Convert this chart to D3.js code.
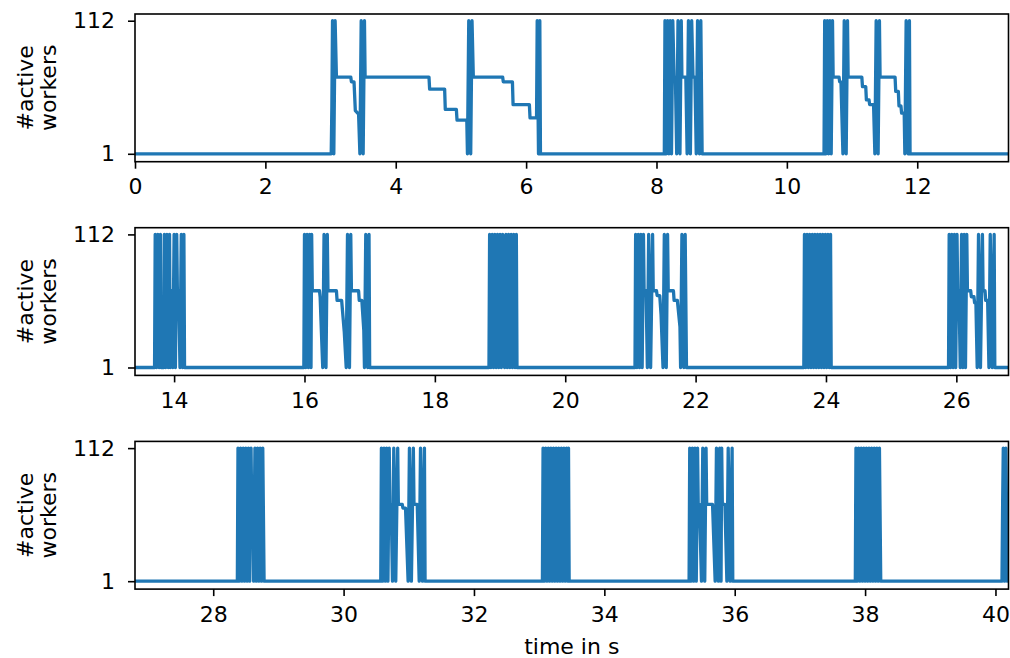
<!DOCTYPE html>
<html>
<head>
<meta charset="utf-8">
<script src="https://cdn.jsdelivr.net/npm/d3@7"></script>
<style>
  body { margin: 0; background: #fff; }
  svg text { font-family: "DejaVu Sans", sans-serif; fill: #000; }
</style>
</head>
<body>
<svg id="chart" width="1010" height="658"></svg>
<script>
// Time window (seconds) shown by each of the three stacked panels
const panelRanges = [[0, 13.4], [13.4, 26.8], [26.8, 40.2]];
const xTickValues = [
  [0, 2, 4, 6, 8, 10, 12],
  [14, 16, 18, 20, 22, 24, 26],
  [28, 30, 32, 34, 36, 38, 40]
];
const yTickValues = [1, 112];
const yLimits = [-5.6, 117.6];
const yLabelLines = ["#active", "workers"];
const xLabel = "time in s";

// Trace of active worker count: [time in s, #active workers]
const samples = [
  [0, 1],
  [3.01, 1], [3.02, 40], [3.03, 112], [3.05, 1], [3.07, 112], [3.09, 65],
  [3.31, 65], [3.32, 61], [3.36, 61], [3.38, 37], [3.43, 34], [3.45, 1], [3.47, 112], [3.50, 1], [3.52, 112], [3.53, 65],
  [4.51, 65], [4.52, 55], [4.75, 55], [4.76, 38], [4.93, 38], [4.94, 29], [5.09, 29], [5.10, 1], [5.12, 112], [5.15, 1], [5.17, 112], [5.19, 65],
  [5.64, 65], [5.65, 61], [5.79, 61], [5.80, 42], [6.05, 42], [6.06, 31], [6.16, 31], [6.17, 112], [6.19, 1], [6.21, 112], [6.22, 1],
  [8.12, 1], [8.13, 112], [8.15, 1], [8.17, 112], [8.19, 1], [8.21, 112], [8.23, 1], [8.25, 112], [8.27, 65], [8.29, 65],
  [8.31, 1], [8.33, 112], [8.36, 1], [8.38, 112], [8.39, 65], [8.45, 65],
  [8.47, 1], [8.49, 112], [8.52, 1], [8.54, 112], [8.56, 65], [8.59, 65],
  [8.61, 1], [8.63, 112], [8.66, 1], [8.68, 112], [8.70, 1],
  [10.57, 1], [10.58, 112], [10.60, 1], [10.62, 112], [10.64, 1], [10.66, 112], [10.68, 1], [10.70, 112], [10.71, 65],
  [10.80, 65], [10.81, 61], [10.83, 61], [10.86, 1], [10.88, 112], [10.91, 1], [10.93, 112], [10.94, 65],
  [11.15, 65], [11.16, 57], [11.21, 57], [11.22, 46], [11.26, 46], [11.27, 42], [11.33, 42],
  [11.35, 1], [11.37, 112], [11.40, 1], [11.42, 112], [11.43, 65],
  [11.66, 65], [11.67, 53], [11.71, 53], [11.72, 41], [11.75, 41], [11.76, 35], [11.80, 35],
  [11.81, 1], [11.83, 112], [11.86, 1], [11.88, 112], [11.89, 1],
  [13.70, 1], [13.71, 112], [13.73, 1], [13.75, 112], [13.77, 1], [13.79, 112], [13.80, 1],
  [13.84, 1], [13.85, 112], [13.87, 1], [13.89, 112], [13.91, 1], [13.93, 112], [13.94, 1],
  [13.95, 65], [13.97, 65],
  [13.98, 1], [14.00, 112], [14.02, 1], [14.04, 112], [14.05, 65], [14.07, 65],
  [14.09, 1], [14.11, 112], [14.13, 1], [14.15, 112], [14.16, 1],
  [15.99, 1], [16.00, 112], [16.02, 1], [16.04, 112], [16.06, 1], [16.08, 112], [16.10, 1], [16.11, 112], [16.12, 65],
  [16.23, 65], [16.24, 60], [16.26, 30], [16.28, 1], [16.30, 112], [16.33, 1], [16.35, 112], [16.36, 65],
  [16.49, 65], [16.50, 57], [16.57, 57], [16.61, 31], [16.64, 1], [16.66, 112], [16.69, 1], [16.71, 112], [16.72, 65],
  [16.83, 65], [16.84, 57], [16.88, 57], [16.91, 32], [16.92, 1], [16.94, 112], [16.97, 1], [16.99, 112], [17.00, 1],
  [18.83, 1], [18.84, 112], [18.86, 1], [18.88, 112], [18.90, 1], [18.92, 112], [18.94, 1], [18.96, 112], [18.98, 1],
  [19.00, 112], [19.02, 1], [19.04, 112], [19.05, 65], [19.06, 65],
  [19.07, 1], [19.09, 112], [19.11, 1], [19.13, 112], [19.15, 1], [19.17, 112], [19.19, 1], [19.21, 112], [19.23, 1],
  [19.25, 112], [19.26, 1],
  [21.07, 1], [21.08, 112], [21.10, 1], [21.12, 112], [21.14, 1], [21.16, 112], [21.18, 1], [21.20, 112], [21.21, 65],
  [21.24, 65], [21.26, 1], [21.28, 112], [21.31, 1], [21.34, 112], [21.35, 65],
  [21.40, 65], [21.41, 61], [21.45, 61], [21.47, 45], [21.50, 1], [21.52, 112], [21.55, 1], [21.57, 112], [21.58, 65],
  [21.66, 65], [21.67, 57], [21.72, 57], [21.76, 35], [21.77, 1], [21.79, 112], [21.82, 1], [21.84, 112], [21.86, 1],
  [23.66, 1], [23.67, 112], [23.69, 1], [23.71, 112], [23.73, 1], [23.75, 112], [23.77, 1], [23.79, 112], [23.81, 1],
  [23.83, 112], [23.85, 1], [23.87, 112], [23.89, 1], [23.91, 112], [23.93, 1], [23.95, 112], [23.97, 1], [23.99, 112],
  [24.01, 1], [24.03, 112], [24.05, 1], [24.07, 112], [24.08, 1],
  [25.88, 1], [25.89, 112], [25.91, 1], [25.93, 112], [25.95, 1], [25.97, 112], [25.99, 1], [26.01, 112], [26.02, 65],
  [26.04, 65], [26.06, 1], [26.08, 112], [26.10, 1], [26.12, 112], [26.14, 1], [26.16, 112], [26.17, 65],
  [26.22, 65], [26.23, 60], [26.27, 60], [26.28, 55], [26.30, 55], [26.32, 1], [26.34, 112], [26.37, 1], [26.40, 112], [26.41, 65],
  [26.44, 65], [26.45, 57], [26.48, 57], [26.50, 1], [26.52, 112], [26.55, 1], [26.58, 112], [26.59, 1],
  [28.37, 1], [28.38, 112], [28.40, 1], [28.42, 112], [28.44, 1], [28.46, 112], [28.48, 1], [28.50, 112], [28.52, 1],
  [28.54, 112], [28.56, 1], [28.58, 112], [28.59, 65], [28.61, 65],
  [28.62, 1], [28.64, 112], [28.66, 1], [28.68, 112], [28.70, 1], [28.72, 112], [28.74, 1], [28.76, 112], [28.78, 1],
  [30.57, 1], [30.58, 112], [30.60, 1], [30.62, 112], [30.64, 1], [30.66, 112], [30.68, 1], [30.70, 112], [30.71, 65],
  [30.73, 65], [30.75, 1], [30.77, 112], [30.80, 1], [30.83, 112], [30.84, 65],
  [30.90, 65], [30.91, 62], [30.95, 62], [30.99, 1], [31.01, 112], [31.04, 1], [31.07, 112], [31.08, 65],
  [31.13, 65], [31.16, 1], [31.18, 112], [31.21, 1], [31.24, 112], [31.25, 1],
  [33.05, 1], [33.06, 112], [33.08, 1], [33.10, 112], [33.12, 1], [33.14, 112], [33.16, 1], [33.18, 112], [33.20, 1],
  [33.22, 112], [33.24, 1], [33.26, 112], [33.27, 65], [33.28, 1], [33.30, 112], [33.32, 1], [33.34, 112], [33.36, 1],
  [33.38, 112], [33.40, 1], [33.42, 112], [33.44, 1], [33.45, 112], [33.46, 1],
  [35.30, 1], [35.31, 112], [35.33, 1], [35.35, 112], [35.37, 1], [35.39, 112], [35.41, 1], [35.43, 112], [35.44, 65],
  [35.46, 65], [35.49, 1], [35.51, 112], [35.54, 1], [35.56, 112], [35.57, 65],
  [35.66, 65], [35.70, 1], [35.72, 112], [35.75, 1], [35.77, 112], [35.79, 1], [35.80, 112], [35.81, 65],
  [35.85, 65], [35.88, 1], [35.90, 112], [35.93, 1], [35.96, 112], [35.97, 1],
  [37.85, 1], [37.86, 112], [37.88, 1], [37.90, 112], [37.92, 1], [37.94, 112], [37.96, 1], [37.98, 112], [38.00, 1],
  [38.02, 112], [38.04, 1], [38.06, 112], [38.08, 1], [38.10, 112], [38.12, 1], [38.14, 112], [38.16, 1], [38.18, 112],
  [38.20, 1], [38.22, 112], [38.24, 1],
  [40.10, 1], [40.11, 65], [40.12, 112], [40.14, 1], [40.16, 112], [40.18, 1]
];

const svg = d3.select("#chart");
const plotLeft = 135, plotRight = 1008.5;
const panelTops = [14, 227.7, 441.4];
const panelHeight = 147.7;
const lineColor = "#1f77b4";
const fontSize = 22;

panelRanges.forEach((range, i) => {
  const top = panelTops[i];
  const x = d3.scaleLinear().domain(range).range([plotLeft, plotRight]);
  const y = d3.scaleLinear().domain(yLimits).range([top + panelHeight, top]);

  const g = svg.append("g");
  const clipId = "clip-" + i;
  svg.append("defs").append("clipPath").attr("id", clipId)
    .append("rect")
    .attr("x", plotLeft).attr("y", top)
    .attr("width", plotRight - plotLeft).attr("height", panelHeight);

  // keep the samples inside the window plus one neighbour on each side
  const visible = samples.filter((d, k) => {
    const prev = samples[k - 1], next = samples[k + 1];
    return (d[0] >= range[0] && d[0] <= range[1]) ||
      (next && next[0] >= range[0] && d[0] < range[0]) ||
      (prev && prev[0] <= range[1] && d[0] > range[1]);
  });

  const line = d3.line().x(d => x(d[0])).y(d => y(d[1]));
  g.append("path")
    .datum(visible)
    .attr("clip-path", `url(#${clipId})`)
    .attr("fill", "none")
    .attr("stroke", lineColor)
    .attr("stroke-width", 3.3)
    .attr("stroke-linejoin", "round")
    .attr("stroke-linecap", "round")
    .attr("d", line);

  // frame
  g.append("rect")
    .attr("x", plotLeft).attr("y", top)
    .attr("width", plotRight - plotLeft).attr("height", panelHeight)
    .attr("fill", "none").attr("stroke", "#000").attr("stroke-width", 1.6);

  const xAxis = g.append("g")
    .attr("transform", `translate(0,${top + panelHeight})`)
    .call(d3.axisBottom(x).tickValues(xTickValues[i]).tickFormat(d3.format("d"))
      .tickSize(7).tickPadding(10));
  const yAxis = g.append("g")
    .attr("transform", `translate(${plotLeft},0)`)
    .call(d3.axisLeft(y).tickValues(yTickValues).tickFormat(d3.format("d"))
      .tickSize(7).tickPadding(13));

  [xAxis, yAxis].forEach(a => {
    a.select(".domain").remove();
    a.selectAll(".tick line").attr("stroke", "#000").attr("stroke-width", 1.6);
    a.selectAll(".tick text")
      .attr("font-family", "DejaVu Sans, sans-serif")
      .attr("font-size", fontSize).attr("fill", "#000");
  });

  const midY = top + panelHeight / 2;
  const label = g.append("text")
    .attr("transform", `translate(34,${midY}) rotate(-90)`)
    .attr("text-anchor", "middle")
    .attr("font-size", fontSize);
  yLabelLines.forEach((t, k) => {
    label.append("tspan")
      .attr("x", 0)
      .attr("y", k === 0 ? -1 : 22)
      .text(t);
  });
});

svg.append("text")
  .attr("x", (plotLeft + plotRight) / 2)
  .attr("y", 654)
  .attr("text-anchor", "middle")
  .attr("font-size", fontSize)
  .text(xLabel);
</script>
</body>
</html>
